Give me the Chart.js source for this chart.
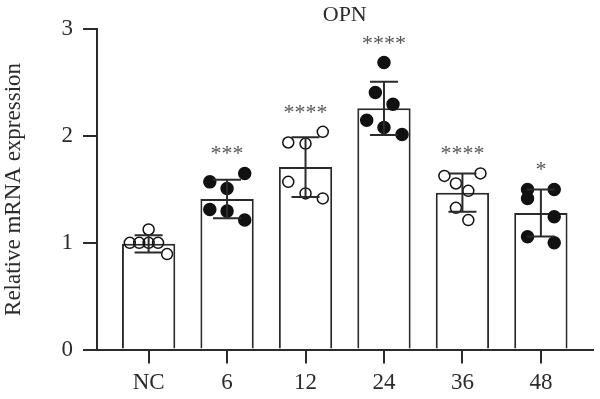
<!DOCTYPE html>
<html>
<head>
<meta charset="utf-8">
<script src="https://cdn.jsdelivr.net/npm/chart.js@4/dist/chart.umd.min.js"></script>
<style>
  html, body { margin: 0; padding: 0; background: #fff; }
  #wrap { width: 600px; height: 399px; }
</style>
</head>
<body>
<div id="wrap"><canvas id="myChart" width="600" height="399"></canvas></div>
<script>
// groups and summary values (mean, SD)
const groups = ["NC", "6", "12", "24", "36", "48"];
const means = [0.99, 1.41, 1.71, 2.26, 1.47, 1.28];
const sds = [0.08, 0.18, 0.28, 0.25, 0.18, 0.22];
const stars = ["", "***", "****", "****", "****", "*"];
const filled = [false, true, false, true, false, true];

// individual replicates per group, and their sideways jitter (in category units)
const pointValues = [
  [1.0, 1.0, 1.0, 1.0, 1.125, 0.894],
  [1.65, 1.571, 1.509, 1.313, 1.297, 1.213],
  [2.04, 1.94, 1.93, 1.571, 1.463, 1.416],
  [2.689, 2.408, 2.299, 2.149, 2.08, 2.015],
  [1.627, 1.65, 1.556, 1.487, 1.328, 1.213],
  [1.5, 1.416, 1.5, 1.244, 1.056, 1.0],
];
const pointJitter = [
  [-0.24, -0.12, 0, 0.12, 0, 0.235],
  [0.225, -0.22, 0, -0.22, 0, 0.225],
  [0.22, -0.22, 0, -0.22, 0, 0.22],
  [0, -0.11, 0.115, -0.22, 0, 0.23],
  [-0.23, 0.23, -0.083, 0.075, -0.083, 0.075],
  [-0.17, -0.17, 0.17, 0.17, -0.17, 0.17],
];
const yTicks = [0, 1, 2, 3];

const ink = "#2b2b2b";
const serif = "'Liberation Serif', 'Times New Roman', serif";

const points = [];
const pointFill = [];
const pointRadius = [];
groups.forEach((g, i) => {
  pointValues[i].forEach((v, k) => {
    points.push({ x: i + pointJitter[i][k], y: v });
    pointFill.push(filled[i] ? "#111" : "rgba(0,0,0,0)");
    pointRadius.push(filled[i] ? 6 : 5.5);
  });
});

// error bars (mean +/- SD) and significance stars, drawn on top of the marks
const errorBars = {
  id: "errorBars",
  afterDatasetsDraw(chart) {
    const { ctx, scales } = chart;
    const x = scales.x, y = scales.y;
    ctx.save();
    ctx.strokeStyle = ink;
    ctx.lineWidth = 2;
    groups.forEach((g, i) => {
      const px = x.getPixelForValue(i);
      const top = y.getPixelForValue(means[i] + sds[i]);
      const bot = y.getPixelForValue(means[i] - sds[i]);
      ctx.beginPath();
      ctx.moveTo(px, top); ctx.lineTo(px, bot);
      ctx.moveTo(px - 14, top); ctx.lineTo(px + 14, top);
      ctx.moveTo(px - 14, bot); ctx.lineTo(px + 14, bot);
      ctx.stroke();
    });
    ctx.fillStyle = "#555";
    ctx.font = "22px " + serif;
    ctx.textAlign = "center";
    ctx.textBaseline = "alphabetic";
    groups.forEach((g, i) => {
      if (!stars[i]) return;
      const hi = Math.max(...pointValues[i]);
      const py = y.getPixelForValue(hi) - 21 + 8;
      ctx.fillText(stars[i], x.getPixelForValue(i), py);
    });
    ctx.restore();
  },
};

const chart = new Chart(document.getElementById("myChart"), {
  type: "bar",
  plugins: [errorBars],
  data: {
    datasets: [
      {
        type: "scatter",
        label: "replicates",
        data: points,
        order: 1,
        pointRadius: pointRadius,
        pointBackgroundColor: pointFill,
        pointBorderColor: "#111",
        pointBorderWidth: 1.5,
        pointHoverRadius: pointRadius,
      },
      {
        type: "bar",
        label: "mean",
        data: means.map((m, i) => ({ x: i, y: m })),
        order: 2,
        backgroundColor: "#fff",
        borderColor: ink,
        borderWidth: 2,
        barPercentage: 0.68,
        categoryPercentage: 1,
      },
    ],
  },
  options: {
    responsive: false,
    animation: false,
    layout: { padding: { right: 1 } },
    scales: {
      x: {
        type: "linear",
        offset: false,
        min: -0.658,
        max: 5.658,
        afterBuildTicks: (s) => { s.ticks = groups.map((g, i) => ({ value: i })); },
        afterFit: (s) => { s.height = 49.5; },
        ticks: {
          color: ink,
          font: { family: serif, size: 23 },
          padding: 6,
          callback: (v) => groups[v],
        },
        grid: { offset: false, drawOnChartArea: false, tickLength: 14, color: ink, lineWidth: 2 },
        border: { color: ink, width: 2 },
      },
      y: {
        min: 0,
        max: 3,
        afterBuildTicks: (s) => { s.ticks = yTicks.map((v) => ({ value: v })); },
        afterFit: (s) => { s.width = 97; },
        ticks: {
          color: ink,
          font: { family: serif, size: 23 },
          padding: 10,
        },
        grid: { drawOnChartArea: false, tickLength: 14, color: ink, lineWidth: 2 },
        border: { color: ink, width: 2 },
        title: {
          display: true,
          text: "Relative mRNA expression",
          color: ink,
          font: { family: serif, size: 23 },
          padding: 0,
        },
      },
    },
    plugins: {
      legend: { display: false },
      tooltip: { enabled: false },
      title: {
        display: true,
        text: "OPN",
        color: ink,
        fullSize: false,
        font: { family: serif, size: 22, weight: "normal" },
        padding: { top: 2, bottom: 1 },
      },
    },
  },
});
</script>
</body>
</html>
